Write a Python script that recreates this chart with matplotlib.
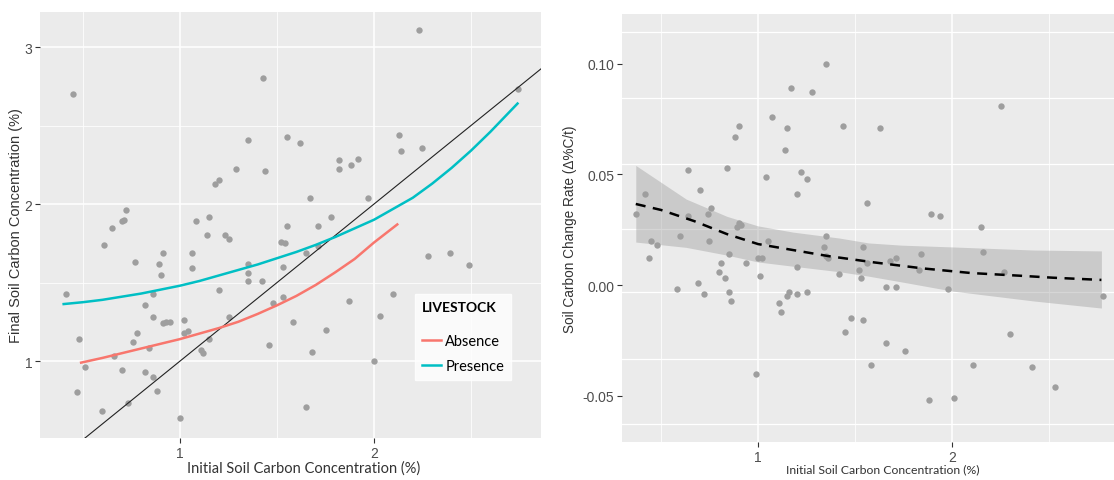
import matplotlib
matplotlib.use('Agg')
import matplotlib.pyplot as plt
from matplotlib.lines import Line2D

# ---- left panel data: final vs initial soil carbon (%) ----
init_c = [1.43, 0.45, 1.35, 1.29, 1.44, 1.20, 1.18, 0.72, 0.71, 0.70,
          0.65, 1.15, 1.08, 1.14, 1.23, 1.25, 0.61, 1.06, 0.91, 0.77,
          0.89, 1.35, 1.06, 0.90, 1.35, 1.35, 1.42, 0.41, 1.20, 0.86,
          0.82, 0.86, 1.48, 0.91, 0.93, 0.95, 1.02, 1.25, 1.02, 1.04,
          0.48, 0.78, 0.76, 1.11, 1.12, 1.15, 1.46, 0.84, 0.66, 0.51,
          0.70, 0.82, 0.86, 0.47, 0.88, 0.73, 0.60, 1.00, 2.23, 2.74,
          1.55, 1.62, 2.13, 2.14, 2.25, 1.82, 1.82, 1.88, 1.92, 1.67,
          1.97, 1.55, 1.71, 1.78, 1.52, 1.54, 1.71, 1.65, 1.53, 2.28,
          2.39, 2.49, 1.53, 2.10, 1.87, 1.58, 2.03, 1.75, 1.68, 2.00,
          1.65]
final_c = [2.80, 2.70, 2.41, 2.22, 2.21, 2.15, 2.13, 1.96, 1.90, 1.89,
           1.85, 1.92, 1.89, 1.80, 1.80, 1.78, 1.74, 1.69, 1.69, 1.63,
           1.62, 1.62, 1.59, 1.55, 1.56, 1.51, 1.51, 1.43, 1.45, 1.43,
           1.36, 1.28, 1.37, 1.24, 1.25, 1.25, 1.26, 1.28, 1.18, 1.19,
           1.14, 1.18, 1.12, 1.07, 1.05, 1.14, 1.10, 1.08, 1.03, 0.96,
           0.94, 0.93, 0.90, 0.80, 0.81, 0.73, 0.68, 0.64, 3.11, 2.73,
           2.43, 2.39, 2.44, 2.34, 2.36, 2.28, 2.22, 2.25, 2.29, 2.04,
           2.04, 1.86, 1.86, 1.92, 1.76, 1.75, 1.73, 1.69, 1.60, 1.67,
           1.69, 1.61, 1.41, 1.43, 1.38, 1.25, 1.29, 1.20, 1.06, 1.00,
           0.71]

# fitted curves by livestock
absence_x = [0.49, 0.60, 0.70, 0.80, 0.90, 1.00, 1.10, 1.20, 1.30, 1.40,
             1.50, 1.60, 1.70, 1.80, 1.90, 2.00, 2.12]
absence_y = [0.99, 1.02, 1.05, 1.08, 1.11, 1.14, 1.175, 1.21, 1.25, 1.30,
             1.355, 1.415, 1.485, 1.565, 1.65, 1.755, 1.87]
presence_x = [0.40, 0.50, 0.60, 0.70, 0.80, 0.90, 1.00, 1.10, 1.20, 1.30,
              1.40, 1.50, 1.60, 1.70, 1.80, 1.90, 2.00, 2.10, 2.20, 2.30,
              2.40, 2.50, 2.60, 2.74]
presence_y = [1.363, 1.375, 1.39, 1.41, 1.43, 1.455, 1.48, 1.51, 1.545, 1.58,
              1.615, 1.655, 1.695, 1.74, 1.79, 1.845, 1.90, 1.97, 2.04, 2.13,
              2.23, 2.34, 2.46, 2.64]

# ---- right panel data: change rate vs initial soil carbon ----
rate_init = [1.35, 1.17, 1.28, 1.07, 0.90, 0.88, 1.15, 1.14, 0.64, 0.84,
             1.04, 1.22, 1.25, 0.70, 0.42, 1.20, 0.37, 0.76, 0.74, 0.64,
             0.90, 0.91, 0.89, 0.60, 0.75, 0.45, 0.48, 1.05, 1.35, 1.34,
             1.36, 1.35, 0.44, 0.85, 0.94, 1.00, 1.02, 0.81, 1.20, 0.80,
             0.83, 1.01, 1.42, 0.58, 0.69, 0.72, 0.85, 0.86, 1.16, 1.15,
             1.20, 1.25, 1.11, 1.12, 0.99, 2.25, 1.44, 1.63, 1.56, 1.89,
             1.94, 2.15, 1.54, 2.16, 1.84, 1.71, 1.68, 1.56, 1.52, 1.83,
             1.53, 2.27, 1.66, 1.71, 1.98, 2.78, 1.48, 1.54, 1.45, 2.30,
             1.66, 1.76, 1.58, 2.11, 2.41, 2.53, 1.88, 2.01]
rate = [0.100, 0.089, 0.087, 0.076, 0.072, 0.067, 0.071, 0.061, 0.052, 0.053,
        0.049, 0.051, 0.048, 0.043, 0.041, 0.041, 0.032, 0.035, 0.032, 0.031,
        0.028, 0.027, 0.026, 0.022, 0.020, 0.020, 0.018, 0.020, 0.022, 0.017,
        0.012, 0.013, 0.012, 0.014, 0.010, 0.012, 0.012, 0.010, 0.008, 0.006,
        0.003, 0.004, 0.005, -0.002, 0.001, -0.004, -0.003, -0.007, -0.003, -0.005,
        -0.004, -0.003, -0.008, -0.012, -0.040, 0.081, 0.072, 0.071, 0.037, 0.032,
        0.031, 0.026, 0.017, 0.015, 0.014, 0.012, 0.011, 0.010, 0.007, 0.007,
        0.003, 0.006, -0.001, -0.001, -0.002, -0.005, -0.015, -0.016, -0.021, -0.022,
        -0.026, -0.030, -0.036, -0.036, -0.037, -0.046, -0.052, -0.051]

fit_x = [0.37, 0.50, 0.67, 0.84, 1.00, 1.18, 1.36, 1.60, 1.85, 2.10, 2.35, 2.52, 2.77]
fit_y = [0.0366, 0.0339, 0.0289, 0.0230, 0.0185, 0.0158, 0.0131, 0.0102,
         0.0075, 0.0054, 0.0042, 0.0033, 0.0023]
band_x = [0.37, 0.63, 0.84, 1.00, 1.18, 1.42, 1.57, 1.74, 2.00, 2.42, 2.77]
band_hi = [0.054, 0.0388, 0.031, 0.0267, 0.0239, 0.0212, 0.0190, 0.0180,
           0.0172, 0.0158, 0.0154]
band_lo = [0.0194, 0.017, 0.0135, 0.0104, 0.0085, 0.006, 0.004, 0.0014,
           -0.0027, -0.0072, -0.0104]

# gridlines in the right panel sit off the labelled ticks
rate_grid = [0.1141, 0.0843, 0.0547, 0.0253, -0.0032, -0.0334, -0.0628]

PANEL = '#EBEBEB'
PT = '#9E9E9E'
TXT = '#4D4D4D'
RED = '#F8766D'
TEAL = '#00BFC4'

fig = plt.figure(figsize=(11.14, 4.81), dpi=100)
ax1 = fig.add_axes([40 / 1114, 42 / 481, 501 / 1114, 426 / 481])
ax2 = fig.add_axes([622 / 1114, 38 / 481, 492 / 1114, 428 / 481])


def gg_style(ax):
    ax.set_facecolor(PANEL)
    for s in ax.spines.values():
        s.set_visible(False)
    ax.tick_params(which='major', length=3.5, width=0.8, color='#333333',
                   labelcolor=TXT, labelsize=10, pad=2)
    ax.tick_params(which='minor', length=0)
    for lab in ax.get_xticklabels() + ax.get_yticklabels():
        lab.set_family('Liberation Sans')
    ax.set_axisbelow(True)


# ---- left ----
ax1.set_xlim(0.278, 2.861)
ax1.set_ylim(0.51, 3.223)
ax1.set_xticks([1, 2])
ax1.set_xticks([0.5, 1.5, 2.5], minor=True)
ax1.set_yticks([1, 2, 3])
ax1.set_yticks([1.5, 2.5], minor=True)
ax1.grid(which='major', color='white', lw=1.1)
ax1.grid(which='minor', color='white', lw=0.55)
gg_style(ax1)

ax1.scatter(init_c, final_c, s=21, color=PT, lw=0, zorder=2)
ax1.axline((0, 0), (1, 1), color='#222222', lw=0.8, zorder=3)
ax1.plot(absence_x, absence_y, color=RED, lw=1.8, zorder=4)
ax1.plot(presence_x, presence_y, color=TEAL, lw=1.8, zorder=4)

ax1.set_ylabel('Final Soil Carbon Concentration (%)', family='Liberation Sans',
               fontsize=10.5, color='#333333', labelpad=1)
fig.text(304 / 1114, 1 - 469 / 481, 'Initial Soil Carbon Concentration (%)',
         family='Lato', fontsize=10.5, color='#333333', ha='center', va='center')

handles = [Line2D([], [], color=RED, lw=1.8), Line2D([], [], color=TEAL, lw=1.8)]
leg = ax1.legend(handles, ['Absence', 'Presence'], title='LIVESTOCK',
                 loc='upper left', bbox_to_anchor=(415 / 1114, 1 - 295 / 481),
                 bbox_transform=fig.transFigure, frameon=True, fancybox=False,
                 handlelength=1.3, handletextpad=0.3, labelspacing=0.75,
                 borderpad=0.45, borderaxespad=0, prop={'family': 'Lato', 'size': 10.5})
leg.get_frame().set_facecolor('white')
leg.get_frame().set_edgecolor('white')
leg.get_title().set_fontweight('bold')
leg.get_title().set_family('Lato')
leg.get_title().set_fontsize(10)
leg._legend_box.align = 'left'
leg._legend_box.sep = 15
leg._legend_box.pad = 5

# ---- right ----
ax2.set_xlim(0.299, 2.835)
ax2.set_ylim(-0.0709, 0.1224)
ax2.set_xticks([1, 2])
ax2.set_xticks([0.5, 1.5, 2.5], minor=True)
ax2.set_yticks([-0.05, 0.0, 0.05, 0.10])
ax2.set_yticklabels(['-0.05', '0.00', '0.05', '0.10'])
ax2.set_yticks(rate_grid, minor=True)
ax2.grid(axis='x', which='major', color='white', lw=1.1)
ax2.grid(axis='x', which='minor', color='white', lw=0.55)
ax2.grid(axis='y', which='minor', color='white', lw=0.9)
gg_style(ax2)

ax2.fill_between(band_x, band_lo, band_hi, color='#999999', alpha=0.4, lw=0, zorder=2)
ax2.scatter(rate_init, rate, s=21, color=PT, lw=0, zorder=3)
ax2.plot(fit_x, fit_y, color='black', lw=1.8, ls=(0, (4, 3)), zorder=4)

ax2.set_ylabel('Soil Carbon Change Rate (\u0394%C/t)', family='Liberation Sans',
               fontsize=9.8, color='#333333', labelpad=4)
fig.text(883 / 1114, 1 - 470 / 481, 'Initial Soil Carbon Concentration (%)',
         family='Lato', fontsize=8.8, color='#333333', ha='center', va='center')

fig.savefig('out.png', dpi=100)
plt.close(fig)
